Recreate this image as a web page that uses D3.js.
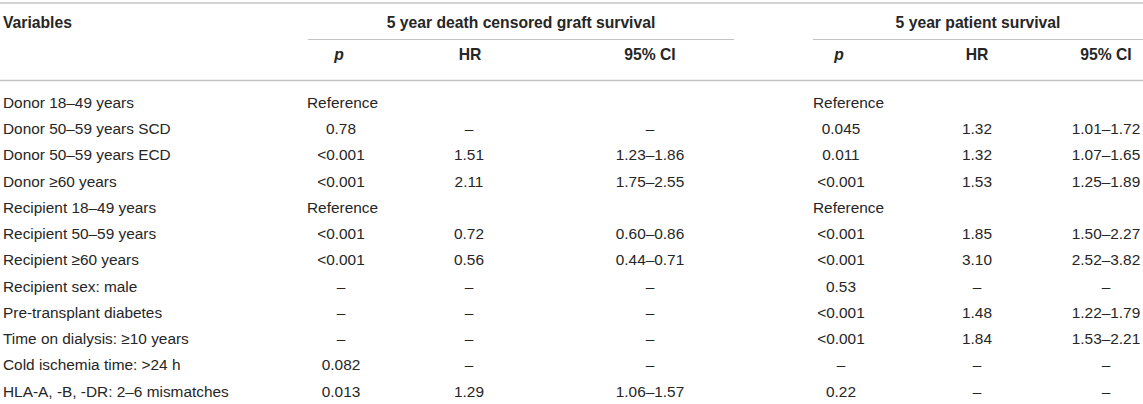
<!DOCTYPE html>
<html>
<head>
<meta charset="utf-8">
<script src="https://cdn.jsdelivr.net/npm/d3@7"></script>
<style>
  html, body { margin: 0; padding: 0; background: #fff; }
  svg { display: block; }
  text { font-family: "Liberation Sans", Arial, Helvetica, sans-serif; font-size: 15.4px; fill: #262626; }
  .bold { font-weight: bold; font-size: 15.7px; }
</style>
</head>
<body>
<svg id="chart" width="1143" height="404"></svg>
<script>
const variables = [
  "Donor 18–49 years",
  "Donor 50–59 years SCD",
  "Donor 50–59 years ECD",
  "Donor ≥60 years",
  "Recipient 18–49 years",
  "Recipient 50–59 years",
  "Recipient ≥60 years",
  "Recipient sex: male",
  "Pre-transplant diabetes",
  "Time on dialysis: ≥10 years",
  "Cold ischemia time: >24 h",
  "HLA-A, -B, -DR: 2–6 mismatches"
];
const groupLabels = ["5 year death censored graft survival", "5 year patient survival"];
const subLabels = ["p", "HR", "95% CI"];
const graftP   = ["Reference","0.78","<0.001","<0.001","Reference","<0.001","<0.001","–","–","–","0.082","0.013"];
const graftHR  = ["","–","1.51","2.11","","0.72","0.56","–","–","–","–","1.29"];
const graftCI  = ["","–","1.23–1.86","1.75–2.55","","0.60–0.86","0.44–0.71","–","–","–","–","1.06–1.57"];
const patientP  = ["Reference","0.045","0.011","<0.001","Reference","<0.001","<0.001","0.53","<0.001","<0.001","–","0.22"];
const patientHR = ["","1.32","1.32","1.53","","1.85","3.10","–","1.48","1.84","–","–"];
const patientCI = ["","1.01–1.72","1.07–1.65","1.25–1.89","","1.50–2.27","2.52–3.82","–","1.22–1.79","1.53–2.21","–","–"];

const svg = d3.select("#chart");
const W = 1143;

// column layout
const colKeys = ["gP","gHR","gCI","pP","pHR","pCI"];
const colX = d3.scaleOrdinal().domain(colKeys).range([341, 469, 650, 841, 977, 1106]);
const groupSpan = [[308, 734], [813, 1143]];
const refX = [307, 813];

// rows
const rowY = d3.scaleLinear().domain([0, variables.length - 1]).range([108, 396.5]);

const lineColor = "#c4c4c4";
// rules
svg.append("line").attr("x1", 0).attr("x2", W).attr("y1", 3).attr("y2", 3)
  .attr("stroke", lineColor).attr("stroke-width", 1.6);
groupSpan.forEach(s => {
  svg.append("line").attr("x1", s[0]).attr("x2", s[1]).attr("y1", 39.5).attr("y2", 39.5)
    .attr("stroke", lineColor).attr("stroke-width", 1.2);
});
svg.append("line").attr("x1", 0).attr("x2", W).attr("y1", 80.5).attr("y2", 80.5)
  .attr("stroke", lineColor).attr("stroke-width", 1.6);

// headers
svg.append("text").attr("class", "bold").attr("x", 3).attr("y", 28).text("Variables");
svg.selectAll("text.group").data(groupLabels).join("text")
  .attr("class", "group bold").attr("text-anchor", "middle")
  .attr("x", (d, i) => (groupSpan[i][0] + groupSpan[i][1]) / 2)
  .attr("y", 28).text(d => d);
const subData = [];
[0, 1].forEach(g => subLabels.forEach((l, j) => subData.push({ g, l, key: colKeys[g * 3 + j] })));
svg.selectAll("text.sub").data(subData).join("text")
  .attr("class", "sub bold").attr("text-anchor", "middle")
  .attr("x", d => colX(d.key) - (d.l === "p" ? 2 : 0) + (d.l === "HR" && d.g === 0 ? 1 : 0))
  .attr("y", 60)
  .style("font-style", d => d.l === "p" ? "italic" : null)
  .text(d => d.l);

// variable names
svg.selectAll("text.var").data(variables).join("text")
  .attr("class", "var").attr("x", 3).attr("y", (d, i) => rowY(i)).text(d => d);

// values
const columns = [graftP, graftHR, graftCI, patientP, patientHR, patientCI];
const cells = [];
columns.forEach((col, c) => col.forEach((v, i) => {
  if (v !== "") cells.push({ v, i, key: colKeys[c], g: c < 3 ? 0 : 1, first: c % 3 === 0 });
}));
svg.selectAll("text.cell").data(cells).join("text")
  .attr("class", "cell")
  .attr("text-anchor", d => (d.v === "Reference") ? "start" : "middle")
  .attr("x", d => d.v === "Reference" ? refX[d.g] : colX(d.key))
  .attr("y", d => rowY(d.i))
  .text(d => d.v);
</script>
</body>
</html>
